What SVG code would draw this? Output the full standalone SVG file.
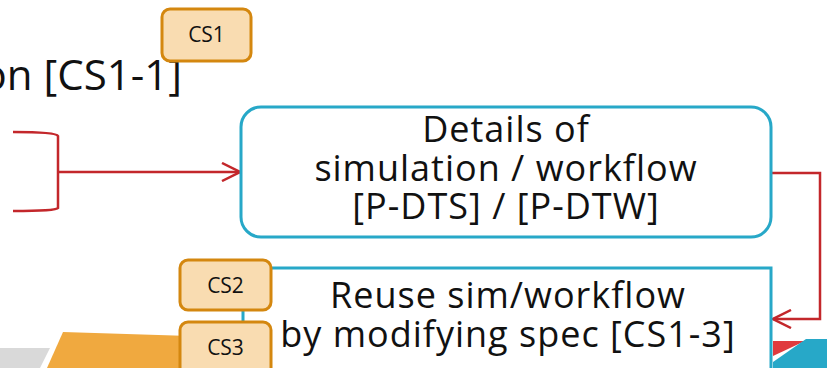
<svg xmlns="http://www.w3.org/2000/svg" width="827" height="368" viewBox="0 0 827 368">
  <style>
    .txt { font-family: "Open Sans", "Noto Sans", sans-serif; fill: #111; }
    .big { font-size: 36px; letter-spacing: 1px; text-anchor: middle; }
    .cs { fill: #f9dcb1; stroke: #d4870f; stroke-width: 3; }
    .cslbl { font-size: 21px; text-anchor: middle; }
    .teal { fill: #fff; stroke: #27a8c8; stroke-width: 3; }
    .conn { fill: none; stroke: #c3272b; stroke-width: 2.5; }
  </style>
  <defs>
    <marker id="arrow" viewBox="0 0 20 20" refX="19" refY="10" markerWidth="20" markerHeight="20" markerUnits="userSpaceOnUse" orient="auto">
      <path d="M1,1 L19,10 L1,19" fill="none" stroke="#c3272b" stroke-width="2.5"/>
    </marker>
  </defs>
  <rect width="827" height="368" fill="#fff"/>

  <g id="decor">
    <polygon points="0,348 50,348 40,368 0,368" fill="#d9d9d9"/>
    <polygon points="63,332 190,336 190,368 47,368" fill="#f0a93f"/>
    <polygon points="773,341 805,341 773,356" fill="#e03a3e"/>
    <polygon points="806,339 827,339 827,368 773,368 773,362" fill="#27a8c8"/>
  </g>

  <g id="label-top">
    <text class="txt" x="182" y="90" font-size="42" text-anchor="end">on [CS1-1]</text>
  </g>

  <g id="connectors">
    <path class="conn" d="M13,132 Q56,132 58,136 V208 Q56,211 13,211"/>
    <path class="conn" d="M58,172 H240" marker-end="url(#arrow)"/>
    <path class="conn" d="M771,173 H820 V319 H773" marker-end="url(#arrow)"/>
  </g>

  <g id="node-details">
    <rect class="teal" x="241" y="107" width="530" height="130" rx="20"/>
    <text class="txt big" x="506" y="142">Details of</text>
    <text class="txt big" x="506" y="181">simulation / workflow</text>
    <text class="txt big" x="506" y="219">[P-DTS] / [P-DTW]</text>
  </g>

  <g id="node-reuse">
    <rect class="teal" x="243" y="268" width="528" height="140"/>
    <text class="txt big" x="508" y="308">Reuse sim/workflow</text>
    <text class="txt big" x="508" y="347">by modifying spec [CS1-3]</text>
  </g>

  <g id="node-cs1">
    <rect class="cs" x="162" y="9" width="89" height="52" rx="8"/>
    <text class="txt cslbl" x="206.5" y="42">CS1</text>
  </g>

  <g id="node-cs2">
    <rect class="cs" x="180" y="260" width="91" height="50" rx="8"/>
    <text class="txt cslbl" x="225.5" y="293">CS2</text>
  </g>

  <g id="node-cs3">
    <rect class="cs" x="180" y="322" width="91" height="60" rx="8"/>
    <text class="txt cslbl" x="225.5" y="355">CS3</text>
  </g>
</svg>
